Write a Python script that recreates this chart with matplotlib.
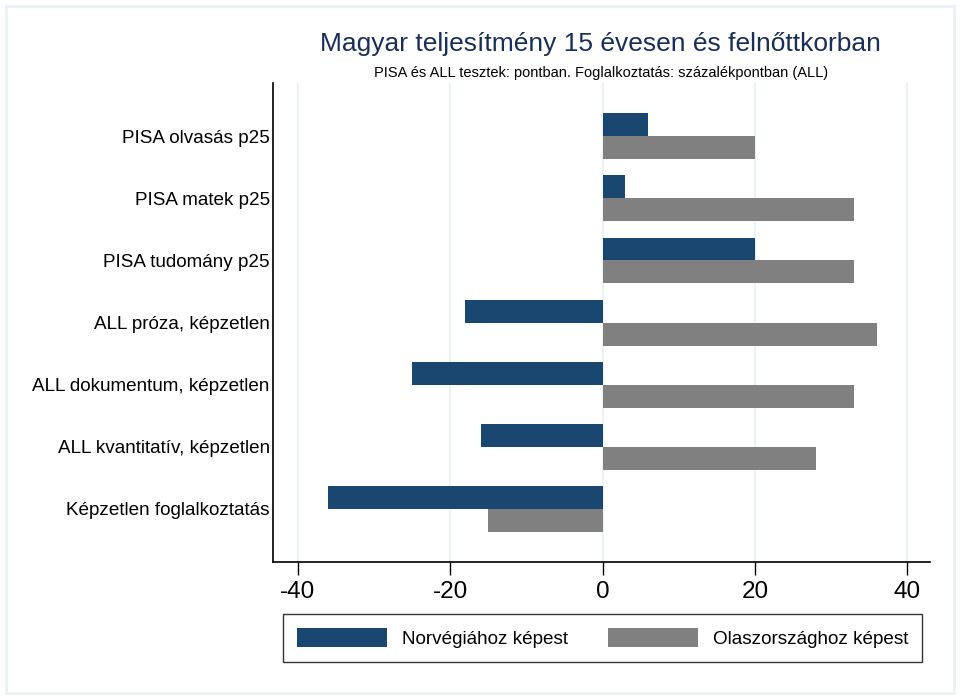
import numpy as np
import matplotlib
matplotlib.use("Agg")
import matplotlib.pyplot as plt
from matplotlib.patches import Rectangle, Patch

plt.rcParams['font.family'] = ['Liberation Sans', 'DejaVu Sans']

categories = ['PISA olvasás p25', 'PISA matek p25', 'PISA tudomány p25',
              'ALL próza, képzetlen', 'ALL dokumentum, képzetlen',
              'ALL kvantitatív, képzetlen', 'Képzetlen foglalkoztatás']
norway = [6, 3, 20, -18, -25, -16, -36]
italy = [20, 33, 33, 36, 33, 28, -15]
series_names = ['Norvégiához képest', 'Olaszországhoz képest']
xticks = [-40, -20, 0, 20, 40]

navy = '#1a476f'
gray = '#808080'
gridc = '#eaf2f3'

fig = plt.figure(figsize=(9.6, 6.99), dpi=100)
fig.patches.append(Rectangle((0.006, 0.009), 0.988, 0.983, transform=fig.transFigure,
                             fill=False, edgecolor=gridc, linewidth=2))

ax = fig.add_axes([0.284, 0.196, 0.685, 0.685])
y = np.arange(len(categories))
h = 0.37
ax.barh(y - h / 2, norway, height=h, color=navy, zorder=3)
ax.barh(y + h / 2, italy, height=h, color=gray, zorder=3)

ax.set_ylim(len(categories) - 1 + 0.855, -0.855)
ax.set_xlim(-43.3, 43.0)
ax.set_xticks(xticks)
ax.set_xticklabels([str(t) for t in xticks], fontsize=17.5)
ax.set_yticks(y)
ax.set_yticklabels(categories, fontsize=13.6)
ax.tick_params(axis='y', length=0, pad=2)
ax.tick_params(axis='x', length=9, width=1, pad=5)
for t in xticks:
    ax.axvline(t, color=gridc, linewidth=1.5, zorder=1)
ax.spines['top'].set_visible(False)
ax.spines['right'].set_visible(False)
ax.spines['left'].set_linewidth(1.2)
ax.spines['bottom'].set_linewidth(1.2)

fig.text(0.625, 0.937, 'Magyar teljesítmény 15 évesen és felnőttkorban',
         ha='center', va='center', fontsize=19, color='#1a2e5a')
fig.text(0.626, 0.895, 'PISA és ALL tesztek: pontban. Foglalkoztatás: százalékpontban (ALL)',
         ha='center', va='center', fontsize=10.5)

handles = [Patch(facecolor=navy), Patch(facecolor=gray)]
leg = fig.legend(handles, series_names, loc='center', bbox_to_anchor=(0.6276, 0.0873),
                 ncol=2, fontsize=13.6, frameon=True, fancybox=False,
                 handlelength=4.76, handleheight=1.22, columnspacing=2.1,
                 borderpad=0.72, handletextpad=0.8)
leg.get_frame().set_edgecolor('black')
leg.get_frame().set_linewidth(1)

fig.savefig('out.png', dpi=100)
